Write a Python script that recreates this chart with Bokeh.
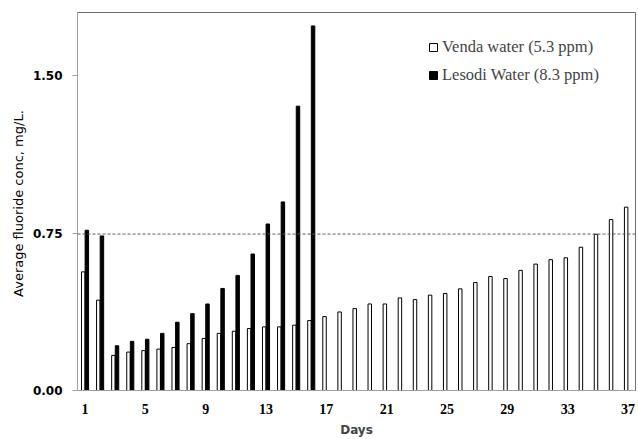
from bokeh.plotting import figure
from bokeh.models import Range1d, FixedTicker, Span, Legend, LegendItem, ColumnDataSource, NumeralTickFormatter
from bokeh.transform import dodge
from bokeh.embed import file_html
from bokeh.resources import INLINE

# ---- data ----
venda_days = list(range(1, 38))
venda_values = [0.565, 0.43, 0.167, 0.183, 0.19, 0.197, 0.205, 0.223, 0.248, 0.272,
                0.282, 0.295, 0.303, 0.303, 0.311, 0.333, 0.352, 0.374, 0.39, 0.412,
                0.412, 0.441, 0.433, 0.454, 0.462, 0.484, 0.514, 0.543, 0.533, 0.572,
                0.602, 0.623, 0.632, 0.682, 0.744, 0.814, 0.873]
lesodi_days = list(range(1, 17))
lesodi_values = [0.763, 0.736, 0.213, 0.234, 0.244, 0.272, 0.325, 0.366, 0.412, 0.486,
                 0.548, 0.65, 0.793, 0.898, 1.354, 1.736]
x_ticks = [1, 5, 9, 13, 17, 21, 25, 29, 33, 37]
y_ticks = [0.0, 0.75, 1.5]
limit_value = 0.745
series_names = ["Venda water (5.3 ppm)", "Lesodi Water (8.3 ppm)"]
y_title = "Average fluoride conc,  mg/L."
x_title = "Days"

venda_src = ColumnDataSource(dict(day=venda_days, value=venda_values))
lesodi_src = ColumnDataSource(dict(day=lesodi_days, value=lesodi_values))

p = figure(width=638, height=439, output_backend="svg", toolbar_location=None,
           x_range=Range1d(0.5, 37.5), y_range=Range1d(0, 1.8),
           min_border_left=77, min_border_right=3, min_border_top=12, min_border_bottom=49)
p.background_fill_color = "white"
p.border_fill_color = "white"
p.outline_line_color = "#6f6f6f"
p.grid.visible = False

w = 0.23
r_v = p.vbar(x=dodge("day", -0.12), top="value", width=w, source=venda_src,
             fill_color="white", line_color="black", line_width=1)
r_l = p.vbar(x=dodge("day", 0.12), top="value", width=w, source=lesodi_src,
             fill_color="black", line_color="black", line_width=1)

p.add_layout(Span(location=limit_value, dimension="width", line_color="#595959",
                  line_dash="3 2", line_width=1))

# axes
xa = p.xaxis[0]
xa.ticker = FixedTicker(ticks=x_ticks)
xa.major_tick_out = 0
xa.major_tick_in = 0
xa.minor_tick_out = 0
xa.minor_tick_in = 0
xa.axis_line_color = "#a0a0a0"
xa.major_label_text_font = "Liberation Serif"
xa.major_label_text_font_style = "bold"
xa.major_label_text_font_size = "14px"
xa.major_label_text_color = "black"
xa.major_label_standoff = 13
xa.axis_label = x_title
xa.axis_label_text_font = "DejaVu Sans"
xa.axis_label_text_font_style = "bold"
xa.axis_label_text_font_size = "12px"
xa.axis_label_standoff = 6

ya = p.yaxis[0]
ya.ticker = FixedTicker(ticks=y_ticks)
ya.formatter = NumeralTickFormatter(format="0.00")
ya.major_tick_out = 5
ya.major_tick_in = 0
ya.minor_tick_out = 0
ya.minor_tick_in = 0
ya.axis_line_color = "#a0a0a0"
ya.major_tick_line_color = "#a0a0a0"
ya.major_label_text_font = "DejaVu Sans"
ya.major_label_text_font_style = "bold"
ya.major_label_text_font_size = "12px"
ya.major_label_text_color = "black"
ya.major_label_standoff = 10
ya.axis_label = y_title
ya.axis_label_text_font = "DejaVu Sans"
ya.axis_label_text_font_style = "normal"
ya.axis_label_text_font_size = "13px"
ya.axis_label_text_color = "black"
ya.axis_label_standoff = 4

legend = Legend(items=[LegendItem(label=series_names[0], renderers=[r_v]),
                       LegendItem(label=series_names[1], renderers=[r_l])],
                location=(351, 305))
legend.border_line_color = None
legend.background_fill_alpha = 0
legend.label_text_font = "Liberation Serif"
legend.label_text_font_size = "16.5px"
legend.glyph_width = 10
legend.glyph_height = 10
legend.label_height = 20
legend.spacing = 8
legend.padding = 0
legend.margin = 0
legend.label_standoff = 4
p.add_layout(legend)

open("out.html", "w").write(file_html(p, INLINE))
